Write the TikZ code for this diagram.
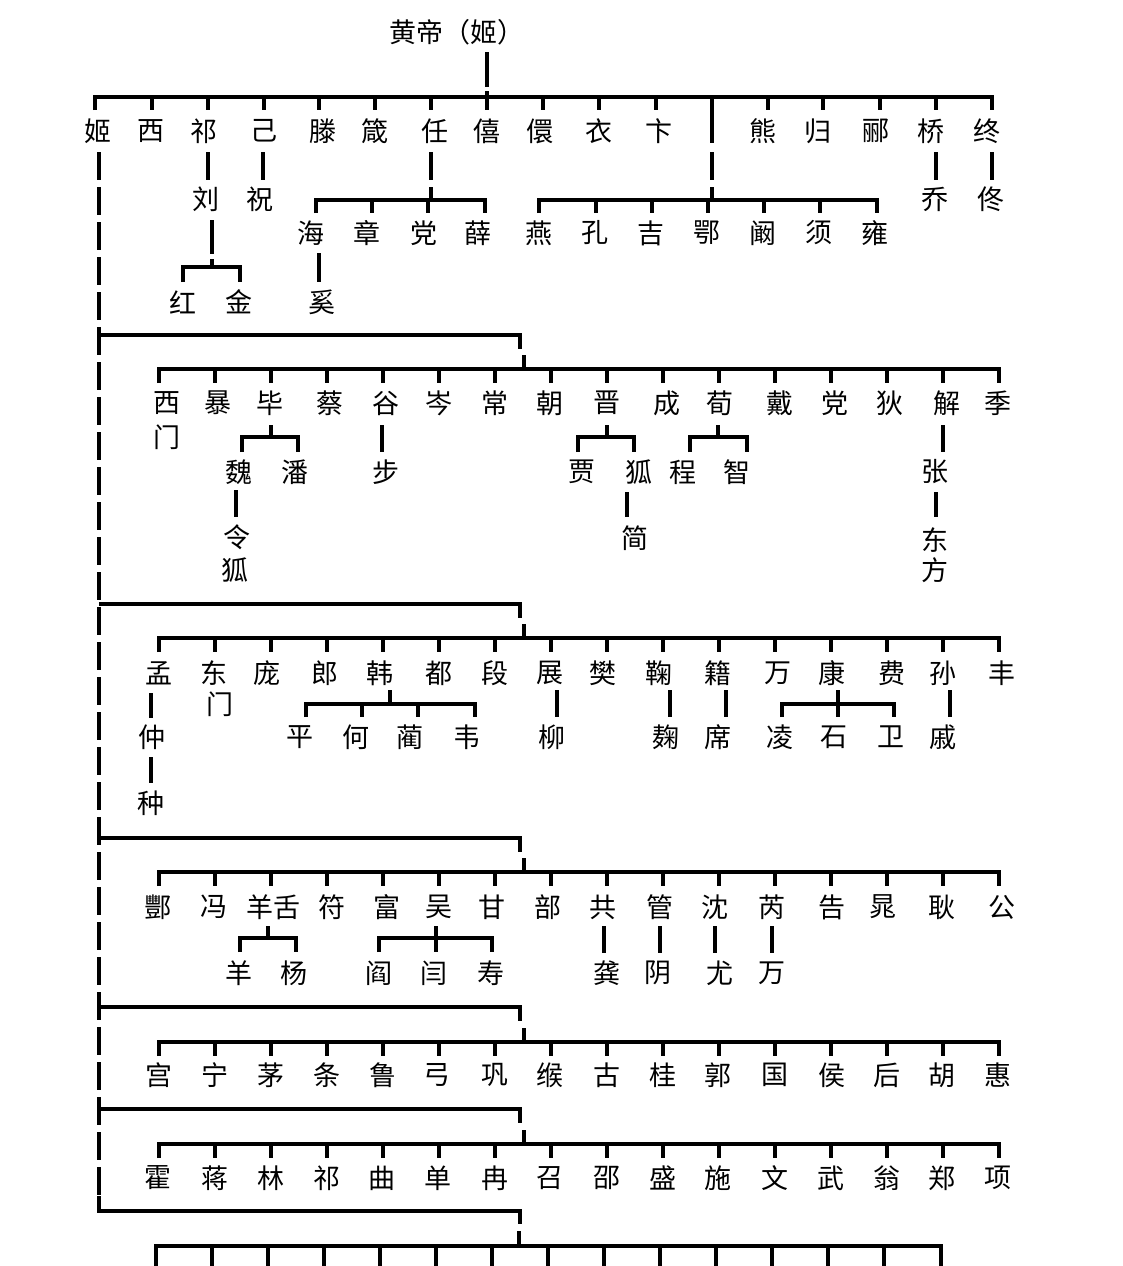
\documentclass[tikz,border=0pt]{standalone}
\usepackage{fontspec}
\newfontfamily\cjk{Noto Sans CJK SC}
\newcommand\cjkf{\cjk\fontsize{27}{27}\selectfont}
\newcommand\pn[3]{\node[nm] (#1) at (#2) {#3};}
\begin{document}
\begin{tikzpicture}[x=1pt,y=-1pt,
  nm/.style={font=\cjkf,inner sep=0pt,text=black},
  ln/.style={line width=3.8pt,line join=miter},
  dl/.style={line width=3.8pt,dash pattern=on 28pt off 7pt}]
\useasboundingbox (0,0) rectangle (1122,1266);
\fill[white] (0,0) rectangle (1122,1266);

% ---------- root ----------
\pn{root}{457,32}{黄帝（姬）}
\draw[ln] (487,52) -- (487,87);
\draw[ln] (487,91) -- (487,97);
\draw[ln] (95,110) -- (95,97) -- (992,97) -- (992,110);
\foreach \x in {152,208,264,319,375,431,487,543,599,656,768,823,880,936}
  \draw[ln] (\x,97) -- (\x,110);

% ---------- row 1 ----------
\pn{t1}{98,131}{姬}   \pn{t2}{151,131}{西}  \pn{t3}{204,131}{祁}
\pn{t4}{264,131}{己}  \pn{t5}{323,131}{滕}  \pn{t6}{375,131}{箴}
\pn{t7}{435,131}{任}  \pn{t8}{487,131}{僖}  \pn{t9}{540,131}{儇}
\pn{t10}{599,131}{衣} \pn{t11}{659,131}{卞} \pn{t13}{763,131}{熊}
\pn{t14}{818,131}{归} \pn{t15}{876,131}{郦} \pn{t16}{931,131}{桥}
\pn{t17}{987,131}{终}

% dashed branch at 712
\draw[ln] (712,97) -- (712,143);
\draw[ln] (712,152) -- (712,180);
\draw[ln] (712,187) -- (712,200);
\draw[ln] (539,213) -- (539,200) -- (877,200) -- (877,213);
\foreach \x in {596,652,708,764,820} \draw[ln] (\x,200) -- (\x,213);
\pn{u1}{539,233}{燕} \pn{u2}{595,233}{孔} \pn{u3}{651,233}{吉}
\pn{u4}{707,233}{鄂} \pn{u5}{763,233}{阚} \pn{u6}{819,233}{须}
\pn{u7}{875,233}{雍}

% 祁 -> 刘, 己 -> 祝
\draw[ln] (208,152) -- (208,180);
\draw[ln] (263,152) -- (263,180);
\pn{liu}{206,199}{刘} \pn{zhu}{260,199}{祝}
\draw[ln] (212,220) -- (212,254);
\draw[ln] (212,259) -- (212,267);
\draw[ln] (183,282) -- (183,267) -- (240,267) -- (240,282);
\pn{hong}{183,302}{红} \pn{jin}{239,302}{金}

% 任
\draw[ln] (431,152) -- (431,180);
\draw[ln] (431,187) -- (431,200);
\draw[ln] (316,213) -- (316,200) -- (485,200) -- (485,213);
\foreach \x in {372,428} \draw[ln] (\x,200) -- (\x,213);
\pn{hai}{311,233}{海} \pn{zhang}{367,233}{章} \pn{dang}{424,233}{党}
\pn{xue}{478,233}{薛}
\draw[ln] (319,253) -- (319,282);
\pn{xi}{322,302}{奚}

% 桥, 终
\draw[ln] (936,152) -- (936,180);
\draw[ln] (992,152) -- (992,180);
\pn{qiao}{935,199}{乔} \pn{tong}{991,199}{佟}

% ---------- main dashed line ----------
\draw[dl] (99,152) -- (99,1205);

% ---------- section 2 ----------
\draw[ln] (99,335) -- (520,335) -- (520,349);
\draw[ln] (524,355) -- (524,369);
\draw[ln] (159,383) -- (159,369) -- (999,369) -- (999,383);
\foreach \x in {215,271,...,943} \draw[ln] (\x,369) -- (\x,383);
\pn{b1}{167,403}{西} \pn{b1m}{167,437}{门}
\pn{b2}{218,403}{暴} \pn{b3}{270,403}{毕} \pn{b4}{330,403}{蔡}
\pn{b5}{386,403}{谷} \pn{b6}{439,403}{岑} \pn{b7}{495,403}{常}
\pn{b8}{550,403}{朝} \pn{b9}{607,403}{晋} \pn{b10}{667,403}{成}
\pn{b11}{720,403}{荀} \pn{b12}{780,403}{戴} \pn{b13}{835,403}{党}
\pn{b14}{890,403}{狄} \pn{b15}{947,403}{解} \pn{b16}{998,403}{季}
% 毕
\draw[ln] (271,425) -- (271,437);
\draw[ln] (242,452) -- (242,437) -- (298,437) -- (298,452);
\pn{wei}{239,472}{魏} \pn{pan}{295,472}{潘}
\draw[ln] (236,490) -- (236,517);
\pn{ling}{237,537}{令} \pn{hu1}{235,570}{狐}
% 谷
\draw[ln] (382,425) -- (382,452);
\pn{bu}{386,472}{步}
% 晋
\draw[ln] (607,425) -- (607,437);
\draw[ln] (578,452) -- (578,437) -- (634,437) -- (634,452);
\pn{jia}{582,472}{贾} \pn{hu2}{639,472}{狐}
\draw[ln] (627,492) -- (627,517);
\pn{jian}{635,538}{简}
% 荀
\draw[ln] (718,425) -- (718,437);
\draw[ln] (690,452) -- (690,437) -- (747,437) -- (747,452);
\pn{cheng}{683,472}{程} \pn{zhi}{737,472}{智}
% 解
\draw[ln] (943,425) -- (943,452);
\pn{zhang2}{935,472}{张}
\draw[ln] (936,492) -- (936,517);
\pn{dong}{935,540}{东} \pn{fang}{935,570}{方}

% ---------- section 3 ----------
\draw[ln] (99,604) -- (520,604) -- (520,618);
\draw[ln] (524,624) -- (524,638);
\draw[ln] (159,652) -- (159,638) -- (999,638) -- (999,652);
\foreach \x in {215,271,...,943} \draw[ln] (\x,638) -- (\x,652);
\pn{c1}{159,673}{孟} \pn{c2}{214,673}{东} \pn{c2m}{220,704}{门}
\pn{c3}{267,673}{庞} \pn{c4}{325,673}{郎} \pn{c5}{380,673}{韩}
\pn{c6}{439,673}{都} \pn{c7}{495,673}{段} \pn{c8}{550,673}{展}
\pn{c9}{603,673}{樊} \pn{c10}{659,673}{鞠} \pn{c11}{718,673}{籍}
\pn{c12}{778,673}{万} \pn{c13}{832,673}{康} \pn{c14}{892,673}{费}
\pn{c15}{943,673}{孙} \pn{c16}{1002,673}{丰}
% 孟
\draw[ln] (151,693) -- (151,718);
\pn{zhong}{152,737}{仲}
\draw[ln] (151,757) -- (151,783);
\pn{zhong2}{151,803}{种}
% 韩
\draw[ln] (390,690) -- (390,704);
\draw[ln] (306,717) -- (306,704) -- (475,704) -- (475,717);
\foreach \x in {362,418} \draw[ln] (\x,704) -- (\x,717);
\pn{ping}{300,737}{平} \pn{he}{356,737}{何} \pn{lin}{410,737}{蔺}
\pn{wei2}{467,737}{韦}
% 展, 鞠, 籍
\draw[ln] (557,690) -- (557,717);  \pn{liu2}{552,737}{柳}
\draw[ln] (670,690) -- (670,717);  \pn{ju}{666,737}{麹}
\draw[ln] (726,690) -- (726,717);  \pn{xi2}{718,737}{席}
% 康
\draw[ln] (838,690) -- (838,717);
\draw[ln] (782,717) -- (782,704) -- (894,704) -- (894,717);
\pn{ling2}{780,737}{凌} \pn{shi}{834,737}{石} \pn{wei3}{891,737}{卫}
% 孙
\draw[ln] (950,690) -- (950,717);  \pn{qi}{943,737}{戚}

% ---------- section 4 ----------
\draw[ln] (99,838) -- (520,838) -- (520,852);
\draw[ln] (524,858) -- (524,872);
\draw[ln] (159,886) -- (159,872) -- (999,872) -- (999,886);
\foreach \x in {215,271,...,943} \draw[ln] (\x,872) -- (\x,886);
\pn{d1}{158,907}{酆} \pn{d2}{214,907}{冯} \pn{d3}{273,907}{羊舌}
\pn{d4}{332,907}{符} \pn{d5}{387,907}{富} \pn{d6}{439,907}{吴}
\pn{d7}{492,907}{甘} \pn{d8}{548,907}{部} \pn{d9}{603,907}{共}
\pn{d10}{660,907}{管} \pn{d11}{715,907}{沈} \pn{d12}{772,907}{芮}
\pn{d13}{832,907}{告} \pn{d14}{883,907}{晁} \pn{d15}{942,907}{耿}
\pn{d16}{1002,907}{公}
% 羊舌
\draw[ln] (268,926) -- (268,938);
\draw[ln] (240,952) -- (240,938) -- (296,938) -- (296,952);
\pn{yang}{239,973}{羊} \pn{yang2}{294,973}{杨}
% 吴
\draw[ln] (436,926) -- (436,952);
\draw[ln] (379,952) -- (379,938) -- (492,938) -- (492,952);
\pn{yan}{379,973}{阎} \pn{yan2}{434,973}{闫} \pn{shou}{491,973}{寿}
% 共 管 沈 芮
\draw[ln] (604,926) -- (604,953);  \pn{gong}{607,973}{龚}
\draw[ln] (660,926) -- (660,953);  \pn{yin}{658,973}{阴}
\draw[ln] (715,926) -- (715,953);  \pn{you}{720,973}{尤}
\draw[ln] (772,926) -- (772,953);  \pn{wan}{772,973}{万}

% ---------- section 5 ----------
\draw[ln] (99,1007) -- (520,1007) -- (520,1021);
\draw[ln] (524,1028) -- (524,1042);
\draw[ln] (159,1056) -- (159,1042) -- (999,1042) -- (999,1056);
\foreach \x in {215,271,...,943} \draw[ln] (\x,1042) -- (\x,1056);
\pn{e1}{159,1075}{宫} \pn{e2}{215,1075}{宁} \pn{e3}{271,1075}{茅}
\pn{e4}{327,1075}{条} \pn{e5}{383,1075}{鲁} \pn{e6}{437,1075}{弓}
\pn{e7}{495,1075}{巩} \pn{e8}{550,1075}{缑} \pn{e9}{607,1075}{古}
\pn{e10}{663,1075}{桂} \pn{e11}{718,1075}{郭} \pn{e12}{775,1075}{国}
\pn{e13}{832,1075}{侯} \pn{e14}{887,1075}{后} \pn{e15}{942,1075}{胡}
\pn{e16}{998,1075}{惠}

% ---------- section 6 ----------
\draw[ln] (99,1109) -- (520,1109) -- (520,1123);
\draw[ln] (524,1130) -- (524,1144);
\draw[ln] (159,1158) -- (159,1144) -- (999,1144) -- (999,1158);
\foreach \x in {215,271,...,943} \draw[ln] (\x,1144) -- (\x,1158);
\pn{f1}{158,1178}{霍} \pn{f2}{215,1178}{蒋} \pn{f3}{271,1178}{林}
\pn{f4}{327,1178}{祁} \pn{f5}{382,1178}{曲} \pn{f6}{438,1178}{单}
\pn{f7}{495,1178}{冉} \pn{f8}{550,1178}{召} \pn{f9}{607,1178}{邵}
\pn{f10}{663,1178}{盛} \pn{f11}{718,1178}{施} \pn{f12}{775,1178}{文}
\pn{f13}{831,1178}{武} \pn{f14}{887,1178}{翁} \pn{f15}{942,1178}{郑}
\pn{f16}{998,1178}{项}

% ---------- section 7 ----------
\draw[ln] (99,1196) -- (99,1211) -- (520,1211) -- (520,1224);
\draw[ln] (519,1231) -- (519,1246);
\draw[ln] (156,1270) -- (156,1246) -- (941,1246) -- (941,1270);
\foreach \x in {212,268,...,884} \draw[ln] (\x,1246) -- (\x,1270);
\end{tikzpicture}
\end{document}
